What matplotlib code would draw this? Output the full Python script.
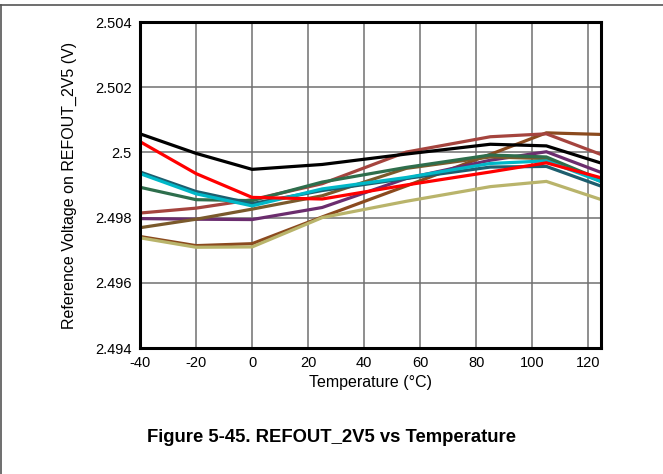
import matplotlib
matplotlib.use("Agg")
import matplotlib.pyplot as plt
from matplotlib.lines import Line2D

plt.rcParams['font.family'] = ['Liberation Sans', 'DejaVu Sans']
plt.rcParams['axes.unicode_minus'] = False

# --- data ---
temps = [-40, -20, 0, 25, 55, 85, 105, 125]

black  = [2.50057, 2.49997, 2.49948, 2.49963, 2.49995, 2.50025, 2.50020, 2.49966]
red    = [2.50033, 2.49935, 2.49862, 2.49857, 2.49900, 2.49940, 2.49968, 2.49921]
teal   = [2.49940, 2.49880, 2.49843, 2.49883, 2.49920, 2.49955, 2.49957, 2.49895]
cyan   = [2.49935, 2.49873, 2.49836, 2.49888, 2.49923, 2.49966, 2.49974, 2.49909]
green  = [2.49893, 2.49855, 2.49852, 2.49909, 2.49954, 2.49992, 2.49986, 2.49914]
olive  = [2.49769, 2.49795, 2.49826, 2.49867, 2.49951, 2.49986, 2.49981, 2.49909]
rosy   = [2.49814, 2.49829, 2.49855, 2.49904, 2.50001, 2.50048, 2.50057, 2.49992]
purple = [2.49797, 2.49795, 2.49794, 2.49831, 2.49920, 2.49976, 2.50002, 2.49937]
sienna = [2.49742, 2.49714, 2.49720, 2.49802, 2.49897, 2.49994, 2.50060, 2.50055]
khaki  = [2.49738, 2.49709, 2.49710, 2.49800, 2.49850, 2.49895, 2.49911, 2.49854]

series = [
    (sienna, '#8b4a1e'),
    (khaki, '#b9b46b'),
    (purple, '#6b2d6e'),
    (olive, '#7a5a2c'),
    (rosy, '#a5443e'),
    (green, '#2e6e4c'),
    (teal, '#1d5e6e'),
    (cyan, '#00b8c8'),
    (red, '#ff0000'),
    (black, '#000000'),
]

xticks = [-40, -20, 0, 20, 40, 60, 80, 100, 120]
yticks = [2.494, 2.496, 2.498, 2.5, 2.502, 2.504]
ytick_labels = ['2.494', '2.496', '2.498', '2.5', '2.502', '2.504']

fig = plt.figure(figsize=(6.63, 4.74), dpi=100)
ax = fig.add_axes([140 / 663, 1 - 348 / 474, 461 / 663, 326 / 474])

for vals, col in series:
    ax.plot(temps, vals, color=col, lw=2.3, solid_joinstyle='miter')

ax.set_xlim(-40, 124.5)
ax.set_ylim(2.494, 2.504)
ax.set_xticks(xticks)
ax.set_yticks(yticks)
ax.set_yticklabels(ytick_labels)
ax.tick_params(length=0, labelsize=10.5, pad=6)
ax.grid(True, color='#707070', lw=1.1)
ax.set_axisbelow(True)
for sp in ax.spines.values():
    sp.set_linewidth(2.2)
    sp.set_color('black')

ax.set_xlabel('Temperature (°C)', fontsize=11.5, labelpad=3)
ax.set_ylabel('Reference Voltage on REFOUT_2V5 (V)', fontsize=11.5, labelpad=13)

fig.text(0.5, 1 - 437 / 474, 'Figure 5-45. REFOUT_2V5 vs Temperature',
         ha='center', va='center', fontsize=13.3, fontweight='bold')

# page frame lines
fig.add_artist(Line2D([0, 1], [1 - 4.5 / 474, 1 - 4.5 / 474], color='#555555', lw=1.2))
fig.add_artist(Line2D([0.001, 0.001], [0, 1 - 4.5 / 474], color='#555555', lw=1.2))

fig.savefig('out.png', dpi=100)
